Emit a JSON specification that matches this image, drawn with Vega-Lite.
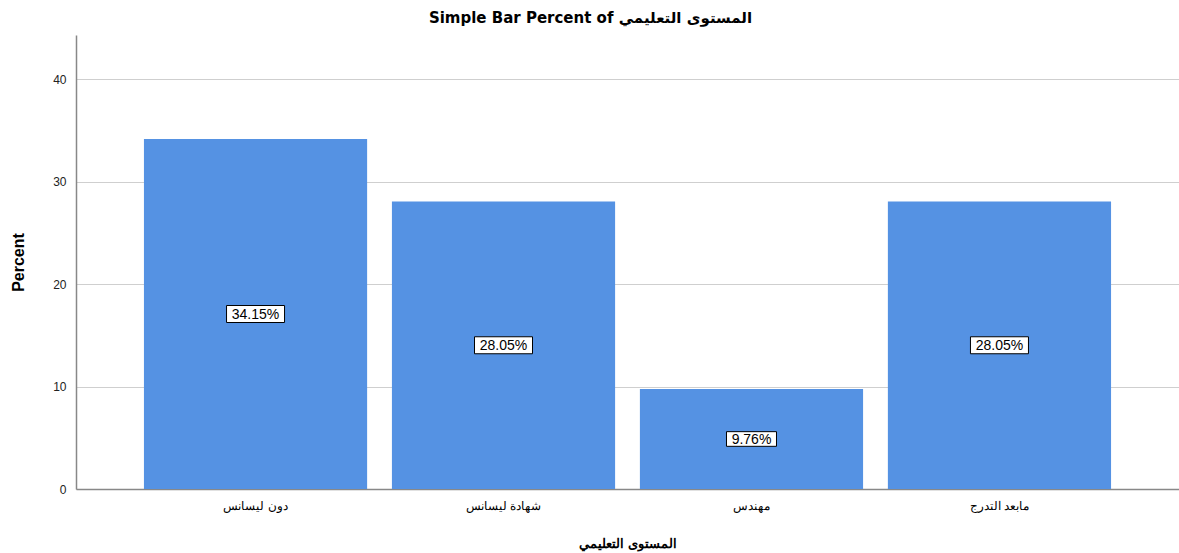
{
  "$schema": "https://vega.github.io/schema/vega-lite/v6.json",
  "autosize": "none",
  "width": 1103,
  "height": 454,
  "padding": {"left": 76, "top": 35, "right": 0, "bottom": 64},
  "background": "white",
  "config": {
    "font": "Liberation Sans",
    "view": {"stroke": null}
  },
  "title": {
    "text": "Simple Bar Percent of المستوى التعليمي",
    "font": "DejaVu Sans",
    "fontSize": 15,
    "fontWeight": "bold",
    "color": "#000000",
    "anchor": "middle",
    "dx": -37,
    "offset": 9
  },
  "data": {
    "values": [
      {"level": "دون ليسانس", "pct": 34.15, "label": "34.15%"},
      {"level": "شهادة ليسانس", "pct": 28.05, "label": "28.05%"},
      {"level": "مهندس", "pct": 9.76, "label": "9.76%"},
      {"level": "مابعد التدرج", "pct": 28.05, "label": "28.05%"}
    ]
  },
  "encoding": {
    "x": {
      "field": "level",
      "type": "nominal",
      "sort": null,
      "scale": {"paddingInner": 0.1, "paddingOuter": 0.274},
      "axis": {
        "title": "المستوى التعليمي",
        "titleFont": "Liberation Sans",
        "titleFontSize": 13,
        "titleFontWeight": "bold",
        "titleColor": "#000000",
        "titlePadding": 26,
        "labelAngle": 0,
        "labelFontSize": 12,
        "labelColor": "#000000",
        "labelPadding": 11,
        "ticks": false,
        "domainColor": "#888888",
        "domainWidth": 1.5
      }
    }
  },
  "layer": [
    {
      "mark": {"type": "bar", "color": "#5592E3"},
      "encoding": {
        "y": {
          "field": "pct",
          "type": "quantitative",
          "scale": {"domain": [0, 44.3], "nice": false},
          "axis": {
            "title": "Percent",
            "titleFont": "Liberation Sans",
            "titleFontSize": 16,
            "titleFontWeight": "bold",
            "titleColor": "#000000",
            "titlePadding": 26,
            "values": [0, 10, 20, 30, 40],
            "labelFontSize": 12,
            "labelColor": "#222222",
            "labelPadding": 10,
            "ticks": false,
            "grid": true,
            "gridColor": "#cfcfcf",
            "gridWidth": 1,
            "domainColor": "#888888",
            "domainWidth": 1.5
          }
        }
      }
    },
    {
      "mark": {
        "type": "point",
        "shape": "M-1,-0.293L1,-0.293L1,0.293L-1,0.293Z",
        "filled": true,
        "fill": "#ffffff",
        "stroke": "#000000",
        "strokeWidth": 1,
        "opacity": 1
      },
      "encoding": {
        "y": {"field": "pct", "type": "quantitative", "scale": {"domain": [0, 88.6], "nice": false}, "axis": null},
        "size": {"condition": {"test": "datum.pct < 10", "value": 2500}, "value": 3364}
      }
    },
    {
      "mark": {
        "type": "text",
        "font": "Liberation Sans",
        "fontSize": 14,
        "color": "#000000",
        "align": "center",
        "baseline": "middle",
        "dy": 1
      },
      "encoding": {
        "y": {"field": "pct", "type": "quantitative", "scale": {"domain": [0, 88.6], "nice": false}, "axis": null},
        "text": {"field": "label"}
      }
    }
  ],
  "resolve": {"scale": {"y": "independent"}}
}
